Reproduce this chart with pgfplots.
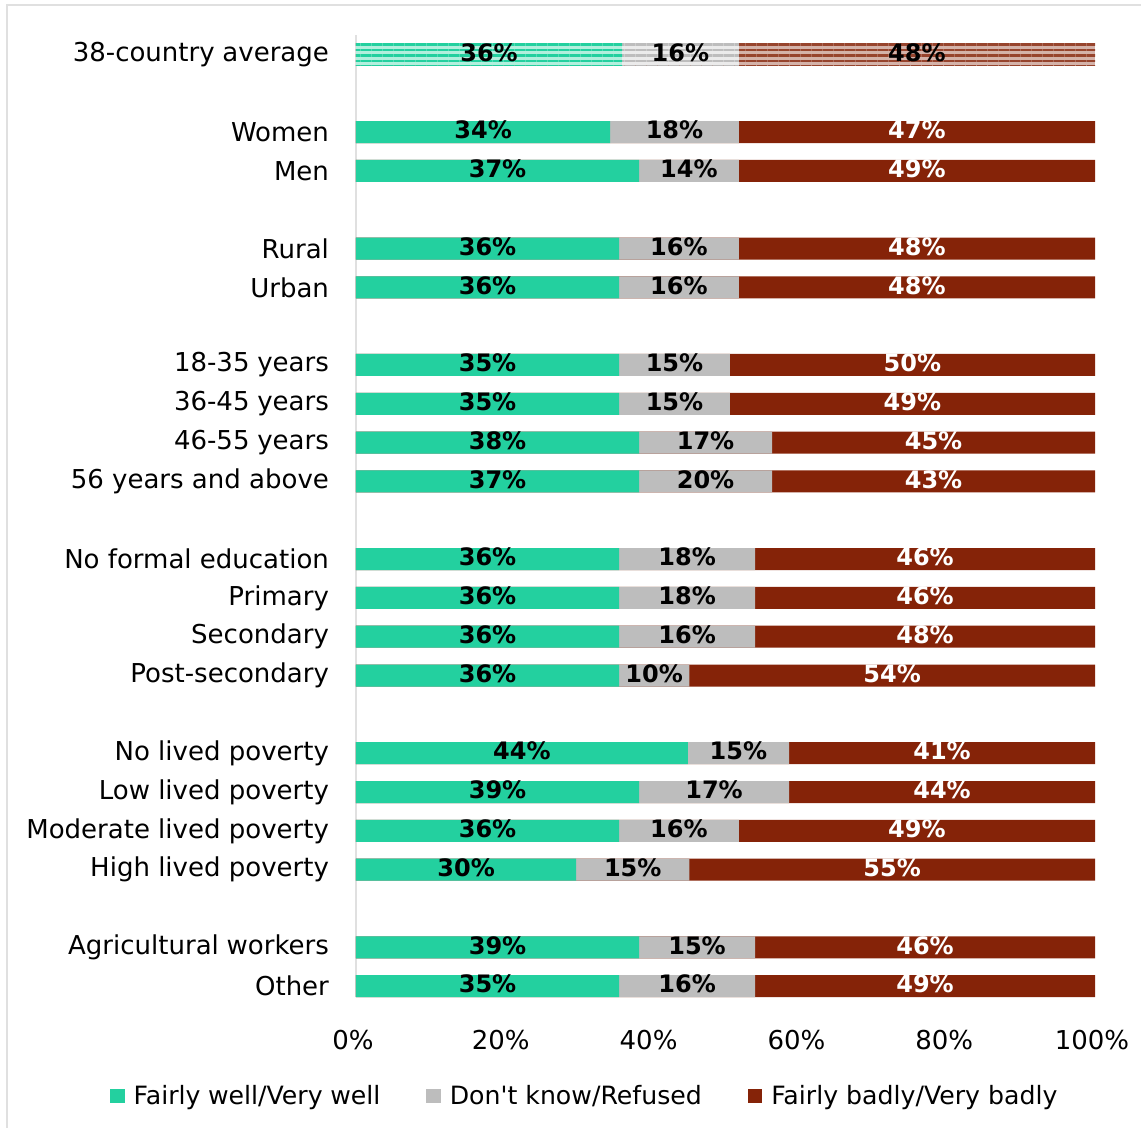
\documentclass[border=0pt]{standalone}
\usepackage{pgfplots}
\pgfplotsset{compat=1.18}
\usepackage{pgfplotstable}
\usepackage{fontspec}
\setmainfont{DejaVu Sans}
\newfontfamily\plainfont{DejaVu Sans}
\usetikzlibrary{patterns.meta}
\definecolor{cgreen}{RGB}{35,208,159}
\definecolor{cgrey}{RGB}{189,189,189}
\definecolor{cred}{RGB}{133,35,8}
\definecolor{cframe}{RGB}{224,224,224}
\newcommand{\dsp}{\hspace{0.3em}}

% y = row position, g/k/r = bar segments (%), lg/lk/lr = printed labels
\pgfplotstableread{
y  g    k    r    lg lk lr
2  34.4 17.4 48.2 34 18 47
3  38.3 13.5 48.2 37 14 49
5  35.6 16.2 48.2 36 16 48
6  35.6 16.2 48.2 36 16 48
8  35.6 15.0 49.4 35 15 50
9  35.6 15.0 49.4 35 15 49
10 38.3 18.0 43.7 38 17 45
11 38.3 18.0 43.7 37 20 43
13 35.6 18.4 46.0 36 18 46
14 35.6 18.4 46.0 36 18 46
15 35.6 18.4 46.0 36 16 48
16 35.6 9.5  54.9 36 10 54
18 44.9 13.7 41.4 44 15 41
19 38.3 20.3 41.4 39 17 44
20 35.6 16.2 48.2 36 16 49
21 29.8 15.3 54.9 30 15 55
23 38.3 15.7 46.0 39 15 46
24 35.6 18.4 46.0 35 16 49
}\maindata
\pgfplotstableread{
y  g    k    r    lg lk lr
0  36.0 15.8 48.2 36 16 48
}\avgdata

\begin{document}
\begin{tikzpicture}
\useasboundingbox (0pt,0pt) rectangle (570.5pt,-564pt);
\draw[cframe, line width=1pt] (3.5pt,-570pt) -- (3.5pt,-2.5pt) -- (575pt,-2.5pt);
\begin{axis}[
  at={(178pt,-498.5pt)}, anchor=south west,
  scale only axis, width=369.5pt, height=481pt,
  xmin=0, xmax=100, ymin=-0.5, ymax=24.28, y dir=reverse,
  axis lines=left, axis line style={-},
  x axis line style={draw=none},
  y axis line style={draw=cframe, line width=1pt},
  major tick length=0pt,
  xtick={0,20,...,100},
  xticklabel={\pgfmathprintnumber{\tick}\%},
  /pgf/number format/assume math mode=true,
  xticklabel style={font=\fontsize{13}{15}\selectfont, yshift=-13pt, xshift=-1.5pt},
  ytick={0,2,3,5,6,8,9,10,11,13,14,15,16,18,19,20,21,23,24},
  yticklabels={38-country\dsp average, Women, Men, Rural, Urban,
    18-35\dsp years, 36-45\dsp years, 46-55\dsp years, 56 years and above,
    No formal education, Primary, Secondary, Post-secondary,
    No lived poverty, Low lived poverty, Moderate lived poverty, High lived poverty,
    Agricultural\dsp workers, Other},
  yticklabel style={font=\fontsize{13}{15}\selectfont, xshift=-10pt},
  legend columns=3,
  legend image code/.code={\fill[#1, draw=none] (0pt,-3.6pt) rectangle (7.2pt,3.6pt);},
  legend style={at={(0.311,-0.103)}, anchor=center, draw=none,
    font=\fontsize{12.6}{15}\selectfont,
    /tikz/every odd column/.append style={column sep=2.5pt},
    /tikz/every even column/.append style={column sep=21pt}},
]
\addlegendimage{fill=cgreen}
\addlegendimage{fill=cgrey}
\addlegendimage{fill=cred}
% main rows (painted back to front: red full, grey cumulative, green)
\addplot[xbar, bar width=11pt, bar shift=0pt, draw=none, fill=cred, forget plot]
  table[x expr=\thisrow{g}+\thisrow{k}+\thisrow{r}, y=y] {\maindata};
\addplot[xbar, bar width=11pt, bar shift=0pt, draw=none, fill=cgrey, forget plot]
  table[x expr=\thisrow{g}+\thisrow{k}, y=y] {\maindata};
\addplot[xbar, bar width=11pt, bar shift=0pt, draw=none, fill=cgreen, forget plot]
  table[x=g, y=y] {\maindata};
% average row, striped
\addplot[xbar, bar width=11pt, bar shift=0pt, draw=none, fill=cred!35!white,
  postaction={pattern={Lines[angle=0,distance=2.75pt,line width=1.1pt]}, pattern color=cred!85!white}, forget plot]
  table[x expr=\thisrow{g}+\thisrow{k}+\thisrow{r}, y=y] {\avgdata};
\addplot[xbar, bar width=11pt, bar shift=0pt, draw=none, fill=cgrey!30!white,
  postaction={pattern={Lines[angle=0,distance=2.75pt,line width=1.1pt]}, pattern color=cgrey}, forget plot]
  table[x expr=\thisrow{g}+\thisrow{k}, y=y] {\avgdata};
\addplot[xbar, bar width=11pt, bar shift=0pt, draw=none, fill=cgreen!35!white,
  postaction={pattern={Lines[angle=0,distance=2.75pt,line width=1.1pt]}, pattern color=cgreen}, forget plot]
  table[x=g, y=y] {\avgdata};
% labels
\pgfplotsset{lab/.style={draw=none, mark=none, forget plot, nodes near coords={\pgfplotspointmeta\%},
  point meta=explicit symbolic,
  every node near coord/.style={anchor=center, yshift=1pt, inner sep=0pt,
    font=\fontsize{12}{14}\selectfont\bfseries, text=#1}}}
\addplot[lab=black] table[x expr=\thisrow{g}/2, y=y, meta=lg] {\maindata};
\addplot[lab=black] table[x expr=\thisrow{g}+\thisrow{k}/2, y=y, meta=lk] {\maindata};
\addplot[lab=white] table[x expr=\thisrow{g}+\thisrow{k}+\thisrow{r}/2, y=y, meta=lr] {\maindata};
\addplot[lab=black] table[x expr=\thisrow{g}/2, y=y, meta=lg] {\avgdata};
\addplot[lab=black] table[x expr=\thisrow{g}+\thisrow{k}/2, y=y, meta=lk] {\avgdata};
\addplot[lab=black] table[x expr=\thisrow{g}+\thisrow{k}+\thisrow{r}/2, y=y, meta=lr] {\avgdata};
\legend{Fairly\dsp well/Very\dsp well, {\plainfont Don't know/Refused}, Fairly badly/Very badly}
\end{axis}
\end{tikzpicture}
\end{document}
